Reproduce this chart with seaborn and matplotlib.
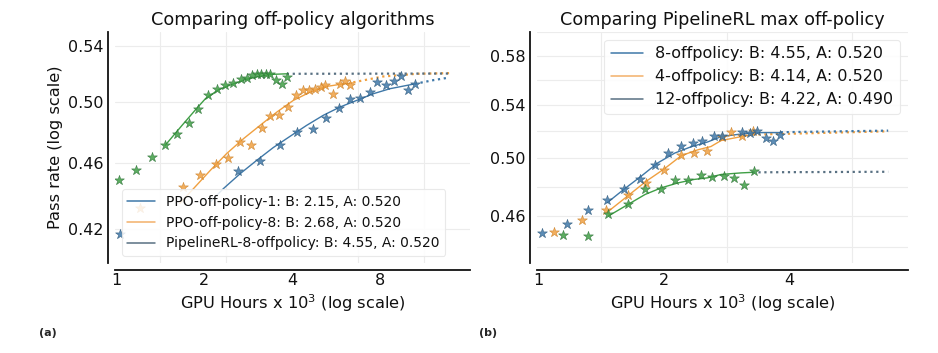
import matplotlib
matplotlib.use("Agg")
import matplotlib.pyplot as plt
import seaborn as sns
from matplotlib.lines import Line2D
from matplotlib.ticker import FixedLocator, NullFormatter, FormatStrFormatter

sns.set_theme(style="whitegrid")
plt.rcParams['font.family'] = ['DejaVu Sans']

# ---- panel (a): off-policy algorithms ----
ppo1_x = [1.03, 2.62, 3.11, 3.64, 4.15, 4.71, 5.23, 5.78, 6.30, 6.83, 7.38, 7.85, 8.41, 8.96, 9.44, 10.0, 10.54]
ppo1_y = [0.4175, 0.4546, 0.4613, 0.4710, 0.4797, 0.4819, 0.4892, 0.4959, 0.5021, 0.5023, 0.5069, 0.5136, 0.5113, 0.5141, 0.5176, 0.5083, 0.5120]
ppo1_fit_x = [2.10, 2.33, 2.66, 3.03, 3.45, 3.94, 4.49, 5.12, 5.84, 6.66, 7.59, 8.66, 10.54]
ppo1_fit_y = [0.436, 0.444, 0.4532, 0.4615, 0.4696, 0.4769, 0.4841, 0.4908, 0.4964, 0.5009, 0.5055, 0.5090, 0.5124]
ppo1_ext_x = [10.54, 12.2, 13.7]
ppo1_ext_y = [0.5124, 0.5150, 0.5167]

ppo8_x = [1.21, 1.69, 1.94, 2.19, 2.42, 2.66, 2.90, 3.15, 3.36, 3.62, 3.89, 4.13, 4.37, 4.59, 4.79, 5.01, 5.19, 5.54, 5.84, 6.07, 6.32]
ppo8_y = [0.4322, 0.4450, 0.4521, 0.4592, 0.4632, 0.4732, 0.4715, 0.4826, 0.4901, 0.4908, 0.4964, 0.5044, 0.5083, 0.5078, 0.5090, 0.5101, 0.5113, 0.5055, 0.5120, 0.5141, 0.5113]
ppo8_fit_x = [1.65, 1.84, 2.10, 2.39, 2.73, 3.11, 3.55, 4.04, 4.61, 5.26, 5.99, 6.49]
ppo8_fit_y = [0.435, 0.444, 0.4552, 0.4658, 0.4754, 0.4841, 0.4930, 0.5009, 0.5066, 0.5106, 0.5124, 0.5131]
ppo8_ext_x = [6.49, 8.21, 10.68, 14.07]
ppo8_ext_y = [0.5135, 0.5176, 0.5195, 0.5200]

pipe_x = [1.02, 1.17, 1.33, 1.47, 1.61, 1.77, 1.91, 2.06, 2.21, 2.35, 2.51, 2.68, 2.80, 2.91, 3.03, 3.13, 3.25, 3.36, 3.52, 3.69, 3.84]
pipe_y = [0.4495, 0.4557, 0.4636, 0.4710, 0.4787, 0.4856, 0.4952, 0.5044, 0.5090, 0.5113, 0.5129, 0.5160, 0.5167, 0.5183, 0.5191, 0.5195, 0.5191, 0.5191, 0.5153, 0.5125, 0.5171]
pipe_fit_x = [1.47, 1.68, 1.86, 2.02, 2.24, 2.49, 2.76, 3.07, 3.41, 3.84]
pipe_fit_y = [0.4710, 0.4841, 0.4941, 0.5021, 0.5083, 0.5120, 0.5153, 0.5176, 0.5191, 0.5195]
pipe_ext_x = [3.84, 14.1]
pipe_ext_y = [0.5195, 0.5197]

labels_a = ["PPO-off-policy-1: B: 2.15, A: 0.520",
            "PPO-off-policy-8: B: 2.68, A: 0.520",
            "PipelineRL-8-offpolicy: B: 4.55, A: 0.520"]

# ---- panel (b): PipelineRL max off-policy ----
off8_x = [1.02, 1.17, 1.31, 1.46, 1.60, 1.75, 1.90, 2.04, 2.20, 2.34, 2.47, 2.63, 2.76, 3.07, 3.21, 3.35, 3.51, 3.65, 3.79]
off8_y = [0.4489, 0.4548, 0.4640, 0.4708, 0.4782, 0.4855, 0.4955, 0.5039, 0.5091, 0.5114, 0.5131, 0.5165, 0.5163, 0.5195, 0.5190, 0.5203, 0.5152, 0.5127, 0.5169]
off8_fit_x = [1.46, 1.60, 1.76, 1.93, 2.12, 2.32, 2.54, 2.74, 3.06, 3.41, 3.81]
off8_fit_y = [0.4691, 0.4782, 0.4873, 0.4968, 0.5039, 0.5085, 0.5120, 0.5160, 0.5180, 0.5190, 0.5190]
off8_ext_x = [3.81, 6.90]
off8_ext_y = [0.5193, 0.5205]

off4_x = [1.09, 1.27, 1.45, 1.64, 1.81, 2.00, 2.19, 2.36, 2.54, 2.75, 2.90, 3.07, 3.26]
off4_y = [0.4496, 0.4576, 0.4640, 0.4740, 0.4827, 0.4920, 0.5027, 0.5036, 0.5056, 0.5156, 0.5193, 0.5165, 0.5203]
off4_fit_x = [1.46, 1.64, 1.81, 2.00, 2.20, 2.41, 2.59, 2.74, 3.06, 3.26]
off4_fit_y = [0.4627, 0.4740, 0.4838, 0.4925, 0.5021, 0.5063, 0.5087, 0.5131, 0.5160, 0.5173]
off4_ext_x = [3.26, 6.90]
off4_ext_y = [0.5175, 0.5200]

off12_x = [1.14, 1.31, 1.47, 1.64, 1.80, 1.97, 2.12, 2.28, 2.45, 2.61, 2.78, 2.94, 3.11, 3.28]
off12_y = [0.4477, 0.4472, 0.4613, 0.4680, 0.4786, 0.4783, 0.4848, 0.4848, 0.4882, 0.4868, 0.4873, 0.4862, 0.4812, 0.4911]
off12_fit_x = [1.47, 1.64, 1.80, 1.97, 2.16, 2.36, 2.54, 2.74, 3.06, 3.26]
off12_fit_y = [0.4602, 0.4680, 0.4747, 0.4793, 0.4827, 0.4851, 0.4862, 0.4886, 0.4897, 0.4901]
off12_ext_x = [3.26, 6.90]
off12_ext_y = [0.4901, 0.4905]

labels_b = ["8-offpolicy: B: 4.55, A: 0.520",
            "4-offpolicy: B: 4.14, A: 0.520",
            "12-offpolicy: B: 4.22, A: 0.490"]

# colours
blue, orange, green = "#3f78a8", "#f0a040", "#3f9f45"
blue_edge, orange_edge, green_edge = "#2a5578", "#c87d25", "#2b6e35"
slate = "#587082"
legend_colors = [blue, "#f2b06a", slate]


def draw_series(ax, x, y, fx, fy, ex, ey, col, edge, extcol):
    sns.scatterplot(x=x, y=y, marker="*", s=55, color=col, edgecolor=edge,
                    linewidth=0.4, alpha=0.85, ax=ax, zorder=3)
    sns.lineplot(x=fx, y=fy, color=col, lw=1.0, sort=False, estimator=None,
                 ax=ax, zorder=2)
    sns.lineplot(x=ex, y=ey, color=extcol, lw=1.6, ls=":", sort=False,
                 estimator=None, ax=ax, zorder=2)


fig = plt.figure(figsize=(9.38, 3.53), dpi=100)
ax1 = fig.add_axes([0.1226, 0.255, 0.3785, 0.654])
ax2 = fig.add_axes([0.5725, 0.255, 0.3955, 0.654])

draw_series(ax1, ppo1_x, ppo1_y, ppo1_fit_x, ppo1_fit_y, ppo1_ext_x, ppo1_ext_y, blue, blue_edge, blue)
draw_series(ax1, ppo8_x, ppo8_y, ppo8_fit_x, ppo8_fit_y, ppo8_ext_x, ppo8_ext_y, orange, orange_edge, orange)
draw_series(ax1, pipe_x, pipe_y, pipe_fit_x, pipe_fit_y, pipe_ext_x, pipe_ext_y, green, green_edge, slate)

draw_series(ax2, off4_x, off4_y, off4_fit_x, off4_fit_y, off4_ext_x, off4_ext_y, orange, orange_edge, orange)
draw_series(ax2, off12_x, off12_y, off12_fit_x, off12_fit_y, off12_ext_x, off12_ext_y, green, green_edge, slate)
draw_series(ax2, off8_x, off8_y, off8_fit_x, off8_fit_y, off8_ext_x, off8_ext_y, blue, blue_edge, blue)

for ax in (ax1, ax2):
    ax.set_xscale("log")
    ax.set_yscale("log")

ax1.set_xlim(0.99, 16.3)
ax1.set_ylim(0.401, 0.55)
ax2.set_xlim(0.99, 7.7)
ax2.set_ylim(0.43, 0.60)

ax1.xaxis.set_major_locator(FixedLocator([1, 2, 4, 8]))
ax1.yaxis.set_major_locator(FixedLocator([0.42, 0.46, 0.50, 0.54]))
ax1.xaxis.set_minor_locator(FixedLocator([1.414, 2.38, 4.0, 6.73, 11.3]))
ax1.yaxis.set_minor_locator(FixedLocator([]))

ax2.xaxis.set_major_locator(FixedLocator([1, 2, 4]))
ax2.yaxis.set_major_locator(FixedLocator([0.46, 0.50, 0.54, 0.58]))
ax2.xaxis.set_minor_locator(FixedLocator([1.414, 2.0, 2.83, 4.0, 5.66]))
ax2.yaxis.set_minor_locator(FixedLocator([0.44, 0.48, 0.52, 0.56, 0.60]))

for ax in (ax1, ax2):
    ax.xaxis.set_major_formatter(FormatStrFormatter("%g"))
    ax.yaxis.set_major_formatter(FormatStrFormatter("%.2f"))
    ax.xaxis.set_minor_formatter(NullFormatter())
    ax.yaxis.set_minor_formatter(NullFormatter())
    ax.grid(False)
    ax.grid(True, which="minor", axis="x", color="#ececec", lw=0.8)
    ax.grid(True, which="major", axis="y", color="#ececec", lw=0.8)
    ax.tick_params(which="both", length=0, labelsize=11.5, colors="#111111")
    ax.tick_params(axis="x", pad=2)
    ax.tick_params(axis="y", pad=3)
    ax.set_facecolor("white")
    sns.despine(ax=ax, offset=5)
    for side in ("left", "bottom"):
        ax.spines[side].set_color("#111111")
        ax.spines[side].set_linewidth(1.3)
    ax.set_xlabel(r"GPU Hours x $10^3$ (log scale)", fontsize=11.7, labelpad=3,
                  color="#111111")

ax2.grid(True, which="minor", axis="y", color="#ececec", lw=0.8)

ax1.set_ylabel("Pass rate (log scale)", fontsize=11.7, labelpad=4, color="#111111")
ax1.set_title("Comparing off-policy algorithms", fontsize=12.7, pad=5, color="#111111")
ax2.set_title("Comparing PipelineRL max off-policy", fontsize=12.7, pad=5, color="#111111")

handles = [Line2D([], [], color=c, lw=1.1) for c in legend_colors]
leg1 = ax1.legend(handles, labels_a, loc="lower left", fontsize=10,
                  frameon=True, framealpha=0.85, borderaxespad=0.5)
leg2 = ax2.legend(handles, labels_b, loc="upper right", fontsize=11.5,
                  frameon=True, framealpha=0.85, borderaxespad=0.5)
for leg in (leg1, leg2):
    leg.get_frame().set_edgecolor("#e6e6e6")
    leg.get_frame().set_linewidth(0.8)
    for t in leg.get_texts():
        t.set_color("#111111")

fig.text(0.051, 0.057, "(a)", fontsize=8, fontweight="bold", ha="center", va="center")
fig.text(0.520, 0.057, "(b)", fontsize=8, fontweight="bold", ha="center", va="center")

fig.savefig("out.png", dpi=100, facecolor="white")
